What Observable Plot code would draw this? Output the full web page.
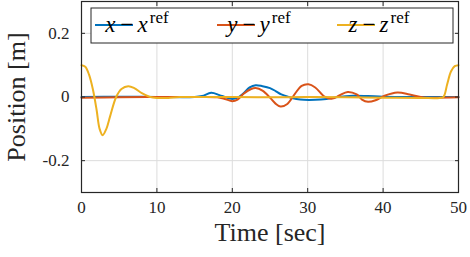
<!DOCTYPE html>
<html>
<head>
<meta charset="utf-8">
<script src="https://cdn.jsdelivr.net/npm/d3@7"></script>
<script src="https://cdn.jsdelivr.net/npm/@observablehq/plot@0.6"></script>
<style>
  html, body { margin: 0; padding: 0; background: #fff; }
  #chart { width: 470px; height: 257px; }
</style>
</head>
<body>
<div id="chart"></div>
<script>
// ---- data ----
const seriesNames = ["x", "y", "z"];
const seriesColors = ["#0072BD", "#D95319", "#EDB120"];

const xTime = [0, 5, 10, 15, 16, 17.2, 18.3, 19, 20, 20.7, 21.5, 22.3, 23.1, 24, 25, 25.8, 26.5, 27.5, 28.5, 29.5, 31, 32.5, 34, 36, 38, 40, 45, 50];
const xErr  = [0, 0.001, 0, 0, 0.003, 0.013, 0.006, 0, -0.006, -0.002, 0.012, 0.03, 0.037, 0.034, 0.028, 0.018, 0.008, 0, -0.006, -0.009, -0.009, -0.006, 0, 0.004, 0.003, 0.001, 0, 0];

const yTime = [0, 5, 10, 15, 18, 19, 20, 20.7, 21.5, 22.5, 23.1, 24, 25, 25.7, 26.4, 27.3, 28.3, 29.2, 30.1, 31, 32.3, 33.3, 34.2, 35.3, 36.5, 37.2, 38, 39, 40.2, 41.9, 43.5, 45, 46, 50];
const yErr  = [-0.002, -0.001, 0, 0, -0.001, -0.006, -0.013, -0.008, 0.01, 0.025, 0.028, 0.02, -0.002, -0.02, -0.03, -0.022, 0.01, 0.035, 0.04, 0.03, 0, -0.005, 0.005, 0.016, 0.008, -0.008, -0.015, -0.01, 0.004, 0.014, 0.008, 0, -0.002, -0.001];

const zTime = [0, 0.5, 1, 1.5, 2, 2.4, 2.8, 3.3, 3.8, 4.6, 5.3, 6.2, 7, 8, 9, 10, 11.5, 13, 16, 20, 25, 30, 35, 40, 45, 47.5, 48, 48.5, 49, 49.5, 50];
const zErr  = [0.1, 0.095, 0.07, 0.025, -0.04, -0.1, -0.12, -0.1, -0.06, 0, 0.025, 0.034, 0.028, 0.012, 0.001, -0.003, -0.003, 0, 0, 0, -0.001, 0, -0.001, -0.002, -0.003, -0.003, 0, 0.04, 0.08, 0.097, 0.1];

const xTicks = [0, 10, 20, 30, 40, 50];
const yTicks = [-0.2, 0, 0.2];
const yTickLabels = ["-0.2", "0", "0.2"];
const xLabel = "Time [sec]";
const yLabel = "Position [m]";

// ---- build table ----
const rows = [];
[[xTime, xErr], [yTime, yErr], [zTime, zErr]].forEach(([ts, vs], i) => {
  ts.forEach((t, j) => rows.push({t, v: vs[j], s: seriesNames[i]}));
});

const font = "'Liberation Serif', 'DejaVu Serif', serif";
const ink = "#262626";

const chart = Plot.plot({
  width: 470,
  height: 257,
  marginLeft: 81,
  marginRight: 12,
  marginTop: 1,
  marginBottom: 65,
  style: {fontFamily: font, fontSize: "17px", color: ink, background: "#fff"},
  x: {domain: [0, 50], ticks: xTicks},
  y: {domain: [-0.3, 0.3], ticks: yTicks},
  color: {domain: seriesNames, range: seriesColors},
  marks: [
    Plot.gridX(xTicks, {stroke: "#dcdcdc", strokeOpacity: 1}),
    Plot.gridY(yTicks, {stroke: "#dcdcdc", strokeOpacity: 1}),
    Plot.line(rows, {x: "t", y: "v", z: "s", stroke: "s", strokeWidth: 2, curve: "catmull-rom"}),
    Plot.axisX(xTicks, {tickSize: 0, tickPadding: 8, fontSize: 17, fill: ink, label: null}),
    Plot.axisX(xTicks, {tickSize: -4, tickFormat: () => "", stroke: ink, label: null}),
    Plot.axisX(xTicks, {anchor: "top", tickSize: -4, tickFormat: () => "", stroke: ink, label: null}),
    Plot.axisY(yTicks, {tickSize: 0, tickPadding: 12, fontSize: 17, fill: ink, label: null,
      tickFormat: d => yTickLabels[yTicks.indexOf(d)]}),
    Plot.axisY(yTicks, {tickSize: -4, tickFormat: () => "", stroke: ink, label: null}),
    Plot.axisY(yTicks, {anchor: "right", tickSize: -4, tickFormat: () => "", stroke: ink, label: null}),
    Plot.frame({stroke: ink, strokeWidth: 1.2}),
    Plot.text([xLabel], {frameAnchor: "bottom", dy: 48, fontSize: 26, fill: ink, textAnchor: "middle"}),
    Plot.text([yLabel], {frameAnchor: "left", dx: -65, rotate: -90, fontSize: 26, fill: ink, textAnchor: "middle"})
  ]
});

document.getElementById("chart").appendChild(chart);

// ---- legend (inside the plot, top) ----
const svg = d3.select(chart);
const lg = svg.append("g").attr("font-family", font).attr("fill", "#000");
lg.append("rect").attr("x", 91).attr("y", 8).attr("width", 362).attr("height", 35)
  .attr("fill", "#fff").attr("stroke", ink).attr("stroke-width", 1);
const entries = [
  {name: "x", x0: 95},
  {name: "y", x0: 217},
  {name: "z", x0: 337}
];
entries.forEach((e, i) => {
  lg.append("line").attr("x1", e.x0).attr("x2", e.x0 + 38).attr("y1", 25).attr("y2", 25)
    .attr("stroke", seriesColors[i]).attr("stroke-width", 2);
  const t = lg.append("text").attr("x", e.x0 + 42).attr("y", 32).attr("font-size", 23);
  t.append("tspan").attr("font-style", "italic").text(e.name);
  t.append("tspan").attr("dx", 5).text("\u2212");
  t.append("tspan").attr("dx", 4).attr("font-style", "italic").text(e.name);
  t.append("tspan").attr("dx", 2).attr("dy", -9).attr("font-size", 17).text("ref");
});
</script>
</body>
</html>
